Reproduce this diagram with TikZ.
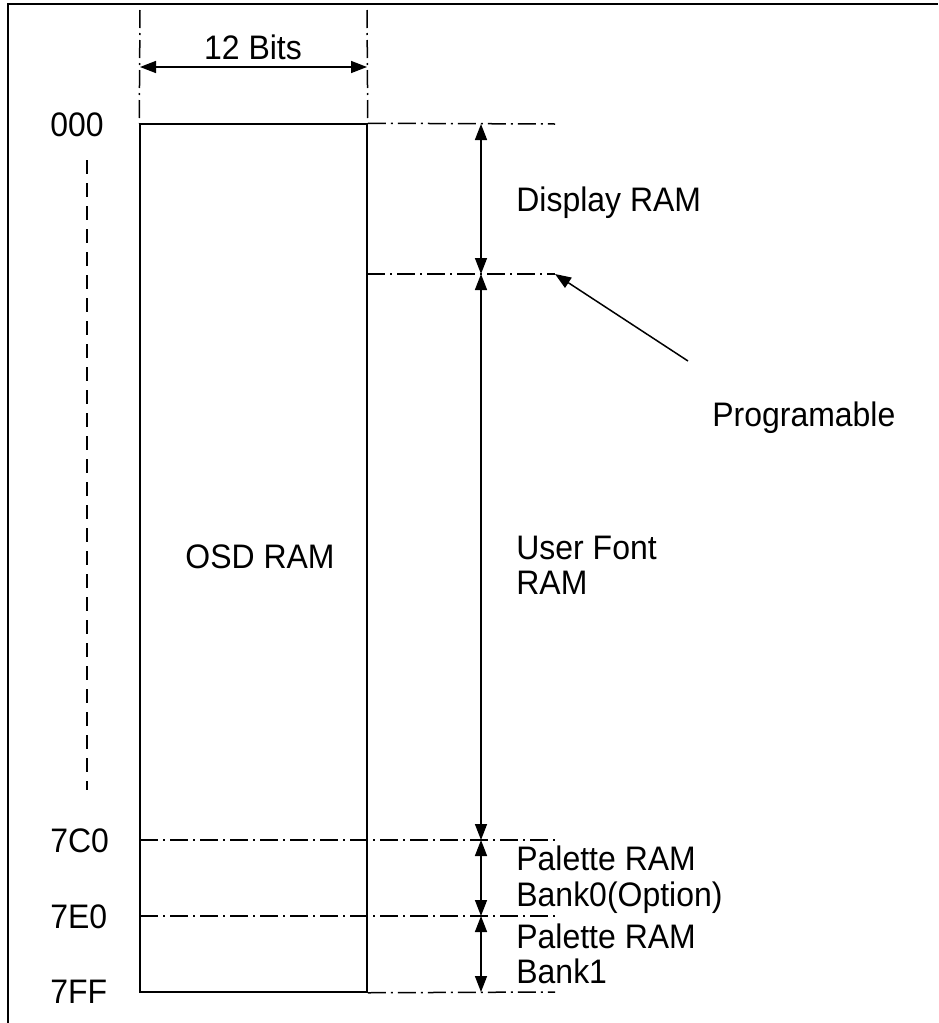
\documentclass[tikz,border=0pt]{standalone}
\usepackage{fontspec}
\setmainfont[FakeStretch=0.94]{Liberation Sans}
\usetikzlibrary{arrows.meta}
\begin{document}
\begin{tikzpicture}[x=0.5pt,y=-0.5pt,
  solidline/.style={line width=0.75pt},
  dashdot/.style={line width=0.75pt,dash pattern=on 9pt off 2.5pt on 1pt off 2.5pt},
  dsh/.style={line width=0.8pt,dash pattern=on 7pt off 4.5pt},
  dim/.style={line width=0.75pt,{Triangle[length=8pt,width=6pt]}-{Triangle[length=8pt,width=6pt]}},
  ptr/.style={line width=0.75pt,-{Triangle[length=8pt,width=6pt]}},
  lbl/.style={font=\fontsize{17}{20}\selectfont,inner sep=0pt,anchor=base west},
]
\useasboundingbox (0,0) rectangle (938,1023);
% frame
\draw[line width=1.2pt] (8,1023) -- (8,4) -- (938,4);
% memory block
\node[draw,solidline,minimum width=113.5pt,minimum height=434pt,inner sep=0pt] (osd) at (253.5,558) {};
\node[lbl,anchor=base] (osdlbl) at (260,568) {OSD RAM};
% width dimension
\coordinate (t0) at (140,10);
\coordinate (t1) at (367,10);
\draw[dashdot] (t0) -- (osd.north west);
\draw[dashdot] (t1) -- (osd.north east);
\coordinate (b0) at (140,67);
\coordinate (b1) at (367,67);
\draw[dim] (b0) -- (b1);
\node[lbl,anchor=base] (bits) at (253,59) {12 Bits};
% left dashed continuation
\coordinate (d0) at (87,160);
\coordinate (d1) at (87,790);
\draw[dsh] (d0) -- (d1);
% boundary lines
\coordinate (e0) at (555,124);
\coordinate (r1) at (367,274);
\coordinate (e1) at (555,274);
\coordinate (s2) at (140,840);
\coordinate (e2) at (555,840);
\coordinate (s3) at (140,916);
\coordinate (e3) at (555,916);
\coordinate (e4) at (555,992);
\draw[dashdot] (osd.north east) -- (e0);
\draw[dashdot] (r1) -- (e1);
\draw[dashdot] (s2) -- (e2);
\draw[dashdot] (s3) -- (e3);
\draw[dashdot] (osd.south east) -- (e4);
% vertical dimension arrows
\coordinate (v0) at (481,124);
\coordinate (v1) at (481,274);
\coordinate (v2) at (481,840);
\coordinate (v3) at (481,916);
\coordinate (v4) at (481,992);
\draw[dim] (v0) -- (v1);
\draw[dim] (v1) -- (v2);
\draw[dim] (v2) -- (v3);
\draw[dim] (v3) -- (v4);
% pointer
\coordinate (pt) at (688,361);
\draw[ptr] (pt) -- (e1);
% address labels
\node[lbl] (a000) at (50,136) {000};
\node[lbl] (a7c0) at (50,852) {7C0};
\node[lbl] (a7e0) at (50,928) {7E0};
\node[lbl] (a7ff) at (50,1003) {7FF};
% region labels
\node[lbl] (disp) at (516,211) {Display RAM};
\node[lbl] (prog) at (712,426) {Programable};
\node[lbl] (uf1) at (516,559) {User Font};
\node[lbl] (uf2) at (516,594) {RAM};
\node[lbl] (p0a) at (516,870) {Palette RAM};
\node[lbl] (p0b) at (516,906) {Bank0(Option)};
\node[lbl] (p1a) at (516,948) {Palette RAM};
\node[lbl] (p1b) at (516,983) {Bank1};
\end{tikzpicture}
\end{document}
